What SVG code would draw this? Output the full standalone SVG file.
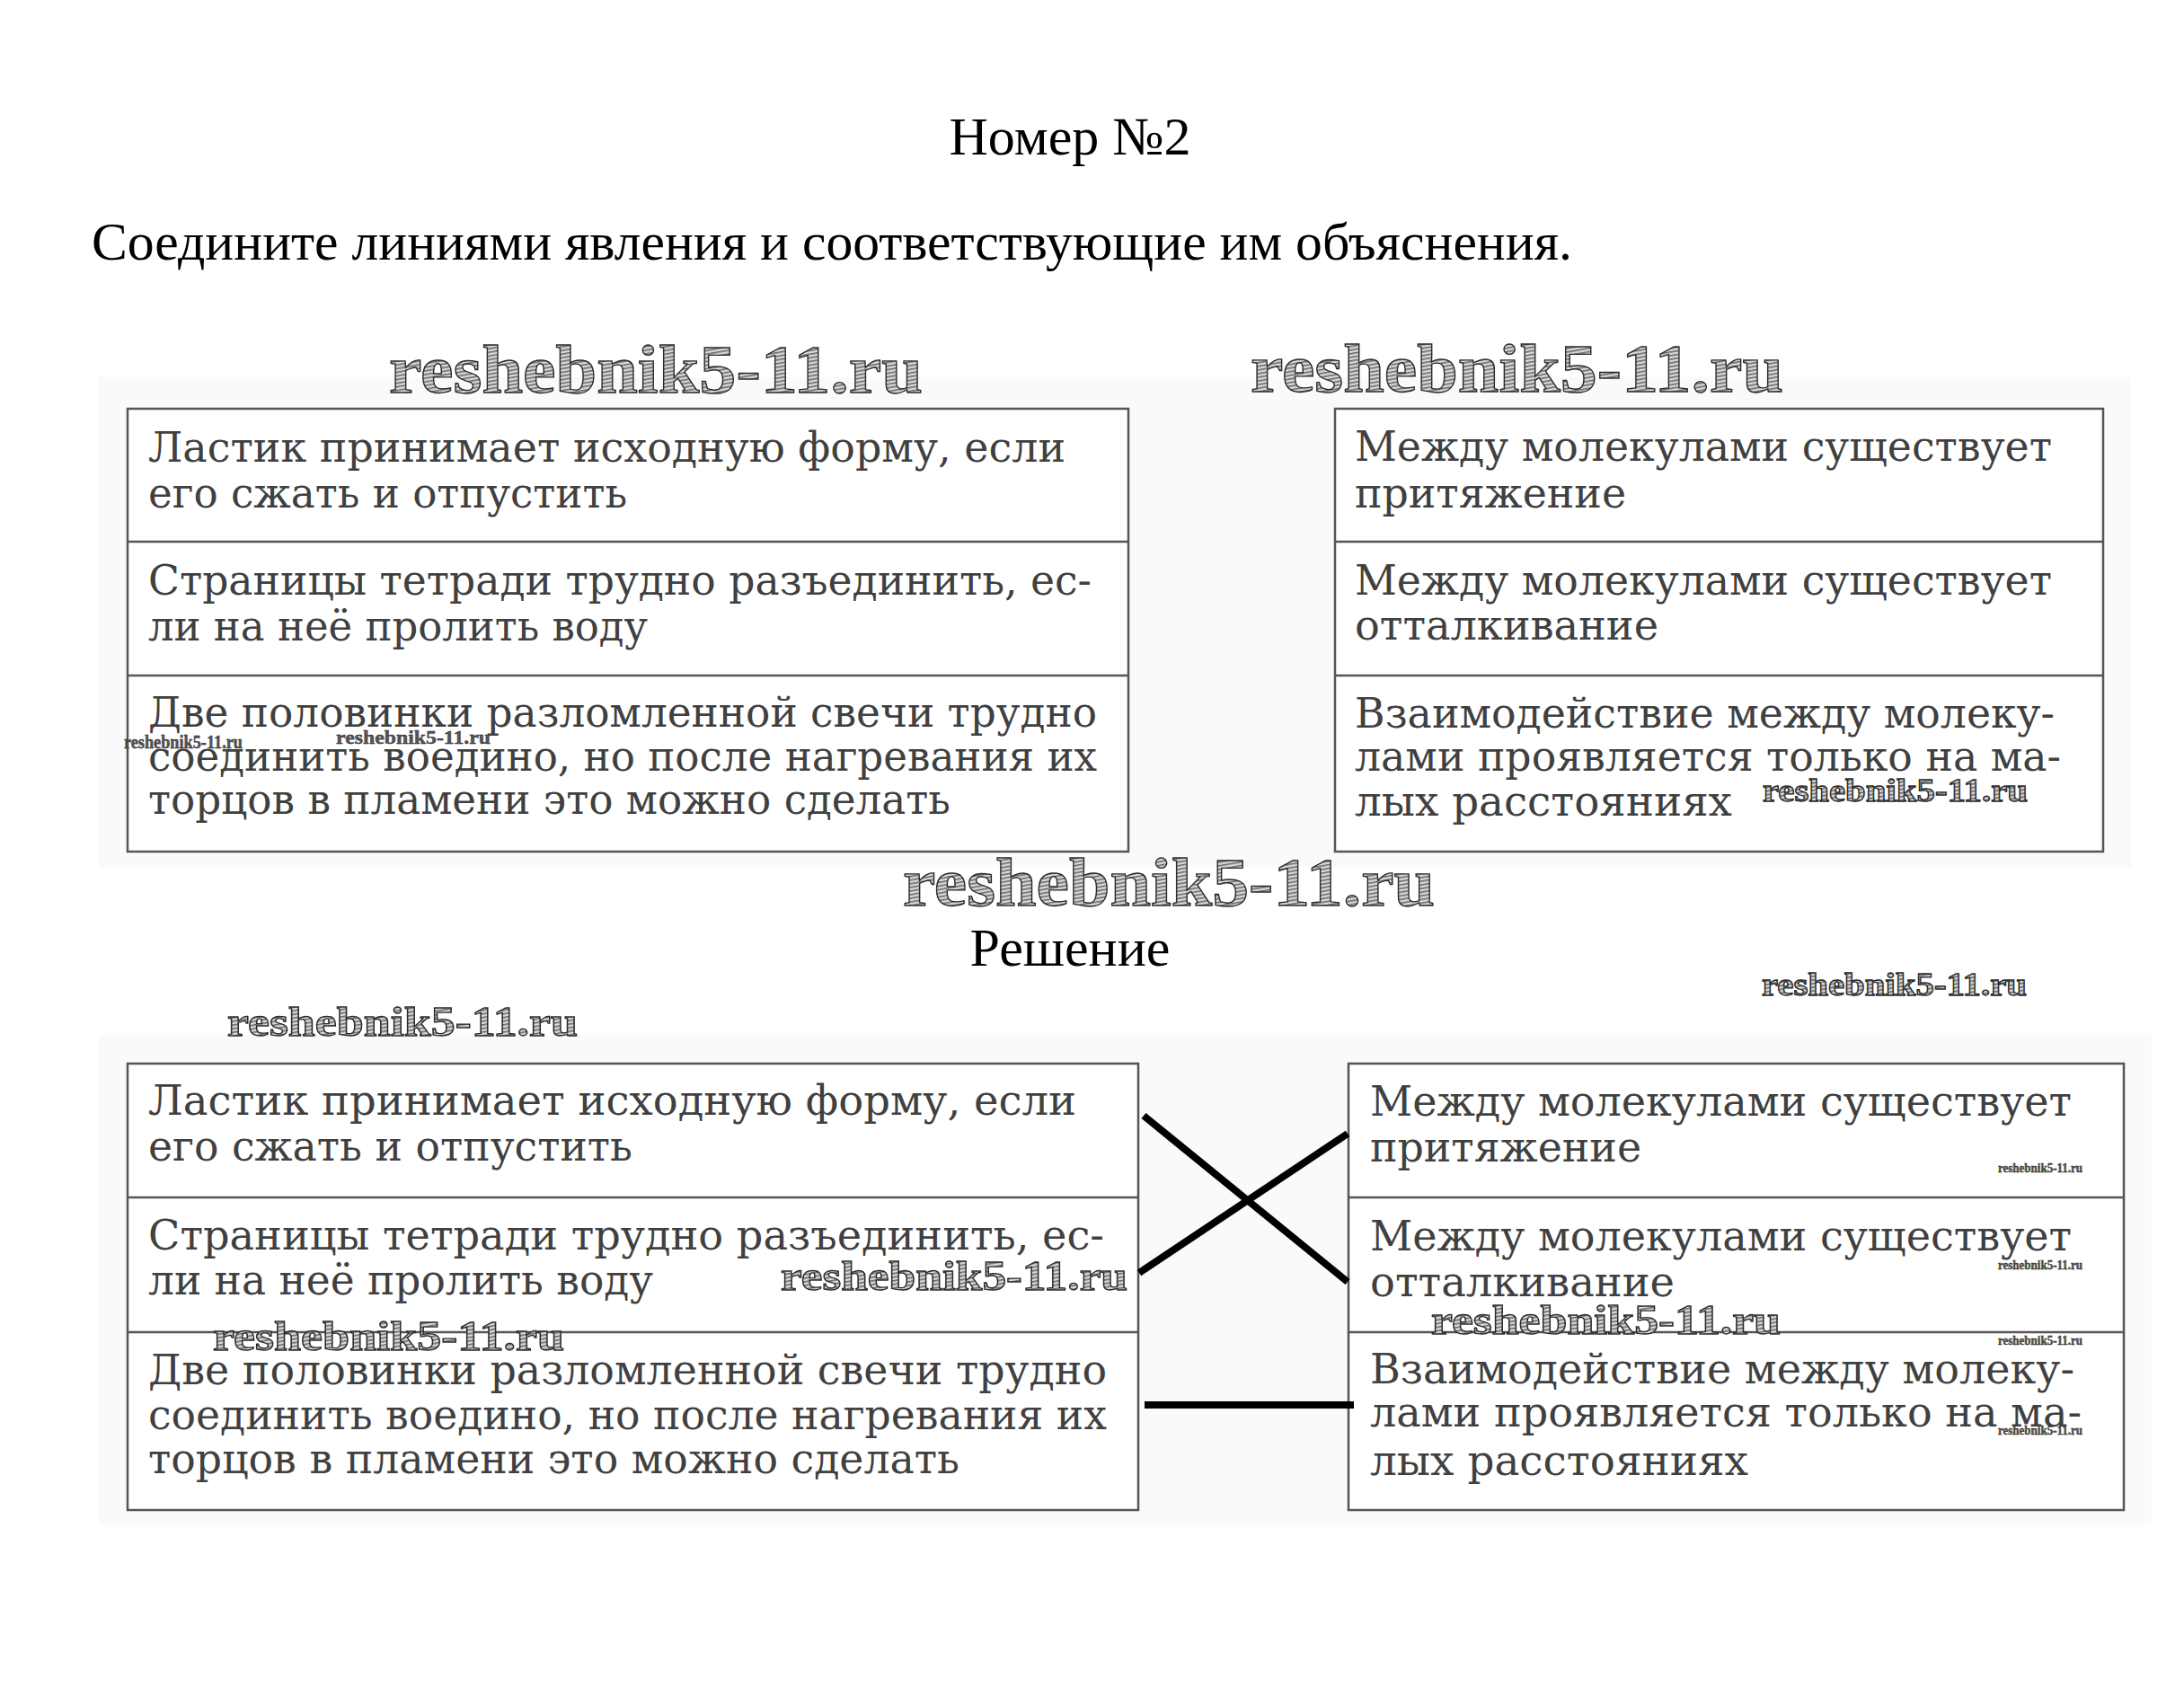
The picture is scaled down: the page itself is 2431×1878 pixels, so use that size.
<svg xmlns="http://www.w3.org/2000/svg" width="2431" height="1878" viewBox="0 0 2431 1878">
<defs>
<pattern id="hatch" width="4" height="4" patternUnits="userSpaceOnUse" patternTransform="rotate(80)">
<rect width="4" height="4" fill="#d8d8d8"/>
<rect width="1.6" height="4" fill="#6a6a6a"/>
</pattern>
<style>
.page{fill:#ffffff}
.scan{fill:#fafafa}
.head{font-family:"Liberation Serif","Times New Roman",serif;font-size:60px;fill:#000}
.box{fill:#ffffff;stroke:#555;stroke-width:2.5}
.div{stroke:#555;stroke-width:2.5}
.t{font-family:"DejaVu Serif","Liberation Serif",serif;font-size:46px;fill:#404040}
.wm{font-family:"Liberation Serif","Times New Roman",serif;font-weight:bold;fill:url(#hatch);stroke:#2a2a2a;stroke-width:1.3}
.wms{font-family:"Liberation Serif","Times New Roman",serif;font-weight:bold;fill:#555;stroke:#222;stroke-width:0.4}
.con{stroke:#000;stroke-width:8;fill:none}
</style>
</defs>
<rect class="page" x="0" y="0" width="2431" height="1878"/>
<rect class="scan" x="110" y="420" width="2262" height="545"/>
<rect class="scan" x="110" y="1152" width="2285" height="545"/>

<g id="title">
<text class="head" x="1191" y="172" text-anchor="middle">Номер №2</text>
<text class="head" x="102" y="289" textLength="1648" lengthAdjust="spacingAndGlyphs">Соедините линиями явления и соответствующие им объяснения.</text>
</g>

<g id="task-left">
<rect class="box" x="142" y="455" width="1114" height="493"/>
<line class="div" x1="142" y1="603" x2="1256" y2="603"/>
<line class="div" x1="142" y1="752" x2="1256" y2="752"/>
<text class="t" x="165" y="514" textLength="1021" lengthAdjust="spacingAndGlyphs">Ластик принимает исходную форму, если</text>
<text class="t" x="165" y="565" textLength="533" lengthAdjust="spacingAndGlyphs">его сжать и отпустить</text>
<text class="t" x="165" y="662" textLength="1050" lengthAdjust="spacingAndGlyphs">Страницы тетради трудно разъединить, ес-</text>
<text class="t" x="165" y="713" textLength="556" lengthAdjust="spacingAndGlyphs">ли на неё пролить воду</text>
<text class="t" x="165" y="809" textLength="1056" lengthAdjust="spacingAndGlyphs">Две половинки разломленной свечи трудно</text>
<text class="t" x="165" y="858" textLength="1056" lengthAdjust="spacingAndGlyphs">соединить воедино, но после нагревания их</text>
<text class="t" x="165" y="906" textLength="893" lengthAdjust="spacingAndGlyphs">торцов в пламени это можно сделать</text>
</g>

<g id="task-right">
<rect class="box" x="1486" y="455" width="855" height="493"/>
<line class="div" x1="1486" y1="603" x2="2341" y2="603"/>
<line class="div" x1="1486" y1="752" x2="2341" y2="752"/>
<text class="t" x="1508" y="513" textLength="776" lengthAdjust="spacingAndGlyphs">Между молекулами существует</text>
<text class="t" x="1508" y="565" textLength="302" lengthAdjust="spacingAndGlyphs">притяжение</text>
<text class="t" x="1508" y="662" textLength="776" lengthAdjust="spacingAndGlyphs">Между молекулами существует</text>
<text class="t" x="1508" y="712" textLength="338" lengthAdjust="spacingAndGlyphs">отталкивание</text>
<text class="t" x="1508" y="810" textLength="779" lengthAdjust="spacingAndGlyphs">Взаимодействие между молеку-</text>
<text class="t" x="1508" y="858" textLength="786" lengthAdjust="spacingAndGlyphs">лами проявляется только на ма-</text>
<text class="t" x="1508" y="908" textLength="420" lengthAdjust="spacingAndGlyphs">лых расстояниях</text>
</g>

<g id="solution-title">
<text class="head" x="1191" y="1075" text-anchor="middle">Решение</text>
</g>

<g id="solution-left">
<rect class="box" x="142" y="1184" width="1125" height="497"/>
<line class="div" x1="142" y1="1333" x2="1267" y2="1333"/>
<line class="div" x1="142" y1="1483" x2="1267" y2="1483"/>
<text class="t" x="165" y="1241" textLength="1033" lengthAdjust="spacingAndGlyphs">Ластик принимает исходную форму, если</text>
<text class="t" x="165" y="1292" textLength="539" lengthAdjust="spacingAndGlyphs">его сжать и отпустить</text>
<text class="t" x="165" y="1391" textLength="1064" lengthAdjust="spacingAndGlyphs">Страницы тетради трудно разъединить, ес-</text>
<text class="t" x="165" y="1441" textLength="562" lengthAdjust="spacingAndGlyphs">ли на неё пролить воду</text>
<text class="t" x="165" y="1541" textLength="1067" lengthAdjust="spacingAndGlyphs">Две половинки разломленной свечи трудно</text>
<text class="t" x="165" y="1591" textLength="1067" lengthAdjust="spacingAndGlyphs">соединить воедино, но после нагревания их</text>
<text class="t" x="165" y="1640" textLength="903" lengthAdjust="spacingAndGlyphs">торцов в пламени это можно сделать</text>
</g>

<g id="solution-right">
<rect class="box" x="1501" y="1184" width="863" height="497"/>
<line class="div" x1="1501" y1="1333" x2="2364" y2="1333"/>
<line class="div" x1="1501" y1="1483" x2="2364" y2="1483"/>
<text class="t" x="1525" y="1242" textLength="781" lengthAdjust="spacingAndGlyphs">Между молекулами существует</text>
<text class="t" x="1525" y="1293" textLength="302" lengthAdjust="spacingAndGlyphs">притяжение</text>
<text class="t" x="1525" y="1392" textLength="781" lengthAdjust="spacingAndGlyphs">Между молекулами существует</text>
<text class="t" x="1525" y="1443" textLength="339" lengthAdjust="spacingAndGlyphs">отталкивание</text>
<text class="t" x="1525" y="1540" textLength="784" lengthAdjust="spacingAndGlyphs">Взаимодействие между молеку-</text>
<text class="t" x="1525" y="1588" textLength="792" lengthAdjust="spacingAndGlyphs">лами проявляется только на ма-</text>
<text class="t" x="1525" y="1642" textLength="421" lengthAdjust="spacingAndGlyphs">лых расстояниях</text>
</g>

<g id="connectors">
<line class="con" x1="1273" y1="1242" x2="1500" y2="1427"/>
<line class="con" x1="1268" y1="1417" x2="1500" y2="1262"/>
<line class="con" x1="1274" y1="1564" x2="1507" y2="1564"/>
</g>

<g id="watermarks">
<text class="wm" x="433" y="437" font-size="76" textLength="594" lengthAdjust="spacingAndGlyphs">reshebnik5-11.ru</text>
<text class="wm" x="1392" y="436" font-size="76" textLength="593" lengthAdjust="spacingAndGlyphs">reshebnik5-11.ru</text>
<text class="wm" x="1005" y="1008" font-size="76" textLength="592" lengthAdjust="spacingAndGlyphs">reshebnik5-11.ru</text>
<text class="wm" x="1962" y="892" font-size="36" stroke-width="0.8" textLength="295" lengthAdjust="spacingAndGlyphs">reshebnik5-11.ru</text>
<text class="wm" x="1961" y="1108" font-size="36" stroke-width="0.8" textLength="295" lengthAdjust="spacingAndGlyphs">reshebnik5-11.ru</text>
<text class="wm" x="253" y="1153" font-size="46" stroke-width="1" textLength="390" lengthAdjust="spacingAndGlyphs">reshebnik5-11.ru</text>
<text class="wm" x="869" y="1436" font-size="46" stroke-width="1" textLength="386" lengthAdjust="spacingAndGlyphs">reshebnik5-11.ru</text>
<text class="wm" x="237" y="1503" font-size="46" stroke-width="1" textLength="391" lengthAdjust="spacingAndGlyphs">reshebnik5-11.ru</text>
<text class="wm" x="1593" y="1485" font-size="46" stroke-width="1" textLength="389" lengthAdjust="spacingAndGlyphs">reshebnik5-11.ru</text>
<text class="wms" x="138" y="833" font-size="20" textLength="132" lengthAdjust="spacingAndGlyphs">reshebnik5-11.ru</text>
<text class="wms" x="374" y="828" font-size="22" textLength="172" lengthAdjust="spacingAndGlyphs">reshebnik5-11.ru</text>
<text class="wms" x="2224" y="1305" font-size="14" textLength="94" lengthAdjust="spacingAndGlyphs">reshebnik5-11.ru</text>
<text class="wms" x="2224" y="1413" font-size="14" textLength="94" lengthAdjust="spacingAndGlyphs">reshebnik5-11.ru</text>
<text class="wms" x="2224" y="1497" font-size="14" textLength="94" lengthAdjust="spacingAndGlyphs">reshebnik5-11.ru</text>
<text class="wms" x="2224" y="1597" font-size="14" textLength="94" lengthAdjust="spacingAndGlyphs">reshebnik5-11.ru</text>
</g>
</svg>
